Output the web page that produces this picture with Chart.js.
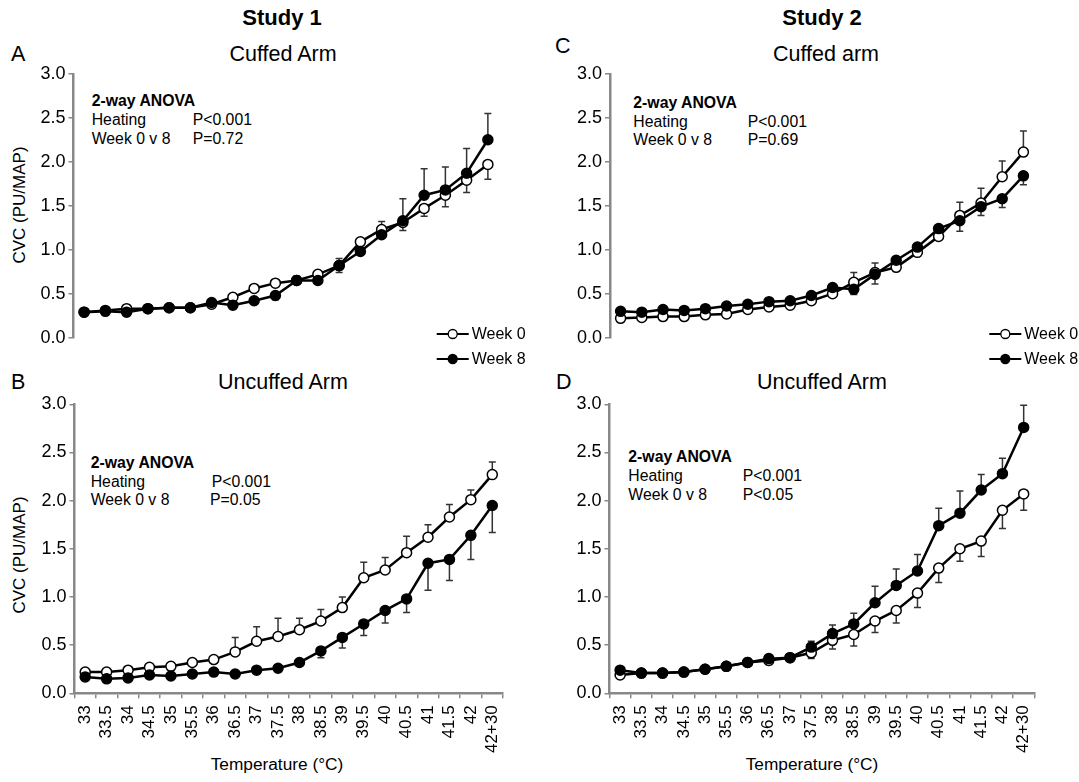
<!DOCTYPE html>
<html><head><meta charset="utf-8">
<script src="https://cdn.jsdelivr.net/npm/chart.js@4.4.0/dist/chart.umd.min.js"></script>
<style>
html,body{margin:0;padding:0;background:#fff;}
body{width:1079px;height:782px;position:relative;overflow:hidden;font-family:"Liberation Sans",Arial,Helvetica,sans-serif;color:#000;}
.box{position:absolute;}
.t{position:absolute;white-space:nowrap;line-height:1;}
.c{transform:translateX(-50%);}
.h{font-size:22px;font-weight:bold;}
.ttl{font-size:21.5px;}
.an{font-size:15.8px;}
.b{font-weight:bold;}
.rot{font-size:17px;transform:translate(-50%,-50%) rotate(-90deg);}
.xt{font-size:17.3px;transform:translate(-50%,-50%);}
</style></head><body>

<div class="t c h" style="left:282px;top:7px;">Study 1</div>
<div class="t c h" style="left:822px;top:7px;">Study 2</div>

<div class="t ttl" style="left:11px;top:44px;">A</div>
<div class="t ttl" style="left:11px;top:372px;">B</div>
<div class="t ttl" style="left:555px;top:36px;">C</div>
<div class="t ttl" style="left:556px;top:372px;">D</div>

<div class="t c ttl" style="left:283px;top:44px;">Cuffed Arm</div>
<div class="t c ttl" style="left:826px;top:44px;">Cuffed arm</div>
<div class="t c ttl" style="left:283px;top:372px;">Uncuffed Arm</div>
<div class="t c ttl" style="left:822px;top:372px;">Uncuffed Arm</div>

<div class="t an b" style="left:91.7px;top:93px;">2-way ANOVA</div>
<div class="t an" style="left:91.7px;top:112.2px;">Heating</div>
<div class="t an" style="left:91.7px;top:131.2px;">Week 0 v 8</div>
<div class="t an" style="left:192.7px;top:112.2px;">P&lt;0.001</div>
<div class="t an" style="left:192.7px;top:131.2px;">P=0.72</div>

<div class="t an b" style="left:90.7px;top:455px;">2-way ANOVA</div>
<div class="t an" style="left:90.7px;top:473.8px;">Heating</div>
<div class="t an" style="left:90.7px;top:492.2px;">Week 0 v 8</div>
<div class="t an" style="left:211.7px;top:473.8px;">P&lt;0.001</div>
<div class="t an" style="left:210px;top:492.2px;">P=0.05</div>

<div class="t an b" style="left:633.3px;top:95px;">2-way ANOVA</div>
<div class="t an" style="left:633.3px;top:113.8px;">Heating</div>
<div class="t an" style="left:633.3px;top:132.2px;">Week 0 v 8</div>
<div class="t an" style="left:747.7px;top:113.8px;">P&lt;0.001</div>
<div class="t an" style="left:747.7px;top:132.2px;">P=0.69</div>

<div class="t an b" style="left:628.3px;top:449px;">2-way ANOVA</div>
<div class="t an" style="left:628.3px;top:468.2px;">Heating</div>
<div class="t an" style="left:628.3px;top:487.2px;">Week 0 v 8</div>
<div class="t an" style="left:742.7px;top:468.2px;">P&lt;0.001</div>
<div class="t an" style="left:742.7px;top:487.2px;">P&lt;0.05</div>

<div class="t rot" style="left:19px;top:205px;">CVC (PU/MAP)</div>
<div class="t rot" style="left:19px;top:555px;">CVC (PU/MAP)</div>
<div class="t xt" style="left:277px;top:765px;">Temperature (°C)</div>
<div class="t xt" style="left:812px;top:765px;">Temperature (°C)</div>

<div class="box" style="left:0px;top:60px;width:540px;height:310px;"><canvas id="cA"></canvas></div>
<div class="box" style="left:0px;top:380px;width:540px;height:402px;"><canvas id="cB"></canvas></div>
<div class="box" style="left:540px;top:60px;width:539px;height:310px;"><canvas id="cC"></canvas></div>
<div class="box" style="left:540px;top:380px;width:539px;height:402px;"><canvas id="cD"></canvas></div>

<script>
// ---- data ----
const categories = ['33','33.5','34','34.5','35','35.5','36','36.5','37','37.5','38','38.5','39','39.5','40','40.5','41','41.5','42','42+30'];
const seriesNames = ['Week 0','Week 8'];
const yTicks = [0,0.5,1.0,1.5,2.0,2.5,3.0];

// Study 1, cuffed arm (A)
const A_week0 = [0.29,0.31,0.33,0.33,0.34,0.34,0.38,0.46,0.56,0.62,0.65,0.72,0.82,1.09,1.23,1.31,1.47,1.62,1.79,1.97];
const A_week8 = [0.29,0.30,0.29,0.33,0.34,0.34,0.40,0.37,0.42,0.48,0.65,0.65,0.82,0.98,1.17,1.33,1.62,1.68,1.87,2.25];
const A_err0  = [0.02,0.02,0.02,0.02,0.02,0.02,0.02,0.02,0.02,0.02,0.04,0.03,0.08,0.03,0.09,0.09,0.09,0.13,0.14,0.17];
const A_err8  = [0.02,0.02,0.02,0.02,0.02,0.02,0.02,0.02,0.03,0.05,0.05,0.03,0.08,0.04,0.03,0.25,0.30,0.26,0.28,0.30];

// Study 1, uncuffed arm (B)
const B_week0 = [0.22,0.22,0.24,0.27,0.28,0.32,0.35,0.43,0.54,0.59,0.66,0.75,0.89,1.20,1.28,1.46,1.62,1.83,2.01,2.27];
const B_week8 = [0.17,0.15,0.16,0.19,0.18,0.20,0.22,0.20,0.24,0.26,0.32,0.44,0.58,0.72,0.86,0.98,1.35,1.39,1.64,1.95];
const B_err0  = [0.02,0.02,0.02,0.02,0.02,0.03,0.03,0.15,0.15,0.19,0.12,0.12,0.11,0.16,0.13,0.17,0.13,0.13,0.10,0.13];
const B_err8  = [0.02,0.02,0.02,0.02,0.02,0.02,0.02,0.02,0.02,0.03,0.03,0.07,0.11,0.12,0.13,0.14,0.28,0.22,0.25,0.28];

// Study 2, cuffed arm (C)
const C_week0 = [0.22,0.23,0.24,0.24,0.26,0.27,0.32,0.35,0.37,0.42,0.50,0.63,0.74,0.80,0.97,1.15,1.39,1.53,1.83,2.11];
const C_week8 = [0.30,0.29,0.32,0.31,0.33,0.36,0.38,0.41,0.42,0.48,0.57,0.55,0.72,0.88,1.03,1.24,1.33,1.49,1.58,1.84];
const C_err0  = [0.02,0.02,0.02,0.02,0.02,0.02,0.02,0.02,0.02,0.02,0.02,0.11,0.11,0.03,0.03,0.03,0.15,0.17,0.18,0.24];
const C_err8  = [0.02,0.02,0.02,0.02,0.02,0.02,0.02,0.02,0.02,0.02,0.02,0.06,0.11,0.03,0.03,0.03,0.12,0.10,0.10,0.10];

// Study 2, uncuffed arm (D)
const D_week0 = [0.19,0.21,0.21,0.22,0.25,0.28,0.32,0.34,0.37,0.42,0.55,0.61,0.75,0.86,1.04,1.30,1.50,1.58,1.90,2.07];
const D_week8 = [0.24,0.21,0.21,0.22,0.25,0.28,0.32,0.36,0.37,0.48,0.62,0.72,0.94,1.12,1.27,1.74,1.87,2.11,2.28,2.76];
const D_err0  = [0.03,0.02,0.02,0.02,0.02,0.03,0.04,0.04,0.04,0.06,0.09,0.12,0.12,0.13,0.15,0.15,0.13,0.16,0.19,0.17];
const D_err8  = [0.02,0.02,0.02,0.02,0.02,0.03,0.04,0.04,0.04,0.06,0.09,0.11,0.17,0.17,0.17,0.18,0.23,0.16,0.16,0.23];

// ---- drawing ----
Chart.defaults.font.family = '"Liberation Sans", Arial, Helvetica, sans-serif';
Chart.defaults.color = '#000';
const AXIS = '#888';

const errorBars = {
  id: 'errorBars',
  beforeDatasetsDraw(chart) {
    const ctx = chart.ctx, ys = chart.scales.y, ds = chart.data.datasets;
    ctx.save();
    ctx.strokeStyle = '#333';
    ctx.lineWidth = 1.5;
    ds.forEach((d, di) => {
      const meta = chart.getDatasetMeta(di);
      const other = ds[1 - di].data;
      d.data.forEach((v, i) => {
        const e = d.err[i];
        if (!e) return;
        const up = di === 1 ? v >= other[i] : v > other[i];
        const p = meta.data[i];
        const y2 = ys.getPixelForValue(up ? v + e : v - e);
        ctx.beginPath();
        ctx.moveTo(p.x, p.y); ctx.lineTo(p.x, y2);
        ctx.moveTo(p.x - 3.5, y2); ctx.lineTo(p.x + 3.5, y2);
        ctx.stroke();
      });
    });
    ctx.restore();
  }
};

const lineLegend = {
  id: 'lineLegend',
  afterDraw(chart, args, opts) {
    if (!opts || !opts.show) return;
    const ctx = chart.ctx;
    ctx.save();
    chart.data.datasets.forEach((d, i) => {
      const x = opts.x, y = opts.y + i * opts.gap;
      ctx.strokeStyle = '#000'; ctx.lineWidth = 2;
      ctx.beginPath(); ctx.moveTo(x, y); ctx.lineTo(x + 32, y); ctx.stroke();
      ctx.beginPath(); ctx.arc(x + 16, y, 4.5, 0, Math.PI * 2);
      ctx.fillStyle = d.pointBackgroundColor; ctx.fill();
      ctx.lineWidth = 1.3; ctx.stroke();
      ctx.fillStyle = '#000';
      ctx.font = '16px "Liberation Sans", Arial, sans-serif';
      ctx.textBaseline = 'middle';
      ctx.fillText(d.label, x + 35, y + 1);
    });
    ctx.restore();
  }
};

function makeChart(id, w0, w8, e0, e8, cfg) {
  const xScale = {
    type: 'category',
    offset: true,
    display: cfg.showX,
    grid: { display: true, drawOnChartArea: false, drawTicks: true, tickLength: 5, color: AXIS, lineWidth: 1.5, offset: true },
    border: { display: true, color: AXIS, width: 2.5 },
    ticks: { autoSkip: false, maxRotation: 90, minRotation: 90, padding: 7, font: { size: 17 }, color: '#000' },
    afterFit: s => { s.height = cfg.xH; }
  };
  new Chart(document.getElementById(id), {
    type: 'line',
    data: {
      labels: categories,
      datasets: [
        { label: seriesNames[0], data: w0, err: e0, order: 1,
          borderColor: '#000', borderWidth: 2.5, pointRadius: 5, pointHoverRadius: 5,
          pointBackgroundColor: '#fff', pointBorderColor: '#000', pointBorderWidth: 1.5, tension: 0, clip: false },
        { label: seriesNames[1], data: w8, err: e8, order: 0,
          borderColor: '#000', borderWidth: 2.5, pointRadius: 5, pointHoverRadius: 5,
          pointBackgroundColor: '#000', pointBorderColor: '#000', pointBorderWidth: 1.5, tension: 0, clip: false }
      ]
    },
    options: {
      responsive: true, maintainAspectRatio: false, animation: false,
      events: [],
      layout: { padding: cfg.pad },
      scales: {
        x: xScale,
        y: {
          min: 0, max: 3,
          afterBuildTicks: s => { s.ticks = yTicks.map(v => ({ value: v })); },
          grid: { display: true, drawOnChartArea: false, drawTicks: true, tickLength: 5, color: AXIS, lineWidth: 1.5 },
          border: { display: true, color: AXIS, width: 2.5 },
          ticks: { padding: 3, font: { size: 18 }, color: '#000', callback: v => Number(v).toFixed(1) },
          afterFit: s => { s.width = cfg.yW; }
        }
      },
      plugins: { legend: { display: false }, tooltip: { enabled: false }, lineLegend: cfg.legend || { show: false } }
    },
    plugins: [errorBars, lineLegend]
  });
}

makeChart('cA', A_week0, A_week8, A_err0, A_err8,
  { showX: false, xH: 0, yW: 73.5, pad: { top: 12.7, bottom: 32.3, left: 0, right: 41.5 },
    legend: { show: true, x: 436.7, y: 274, gap: 25 } });
makeChart('cB', B_week0, B_week8, B_err0, B_err8,
  { showX: true, xH: 88.7, yW: 74.5, pad: { top: 24.3, bottom: 0, left: 0, right: 37 } });
makeChart('cC', C_week0, C_week8, C_err0, C_err8,
  { showX: false, xH: 0, yW: 70, pad: { top: 12.7, bottom: 32.3, left: 0, right: 45 },
    legend: { show: true, x: 449.3, y: 274, gap: 25 } });
makeChart('cD', D_week0, D_week8, D_err0, D_err8,
  { showX: true, xH: 88.7, yW: 69.5, pad: { top: 24.3, bottom: 0, left: 0, right: 44.7 } });
</script>
</body></html>
